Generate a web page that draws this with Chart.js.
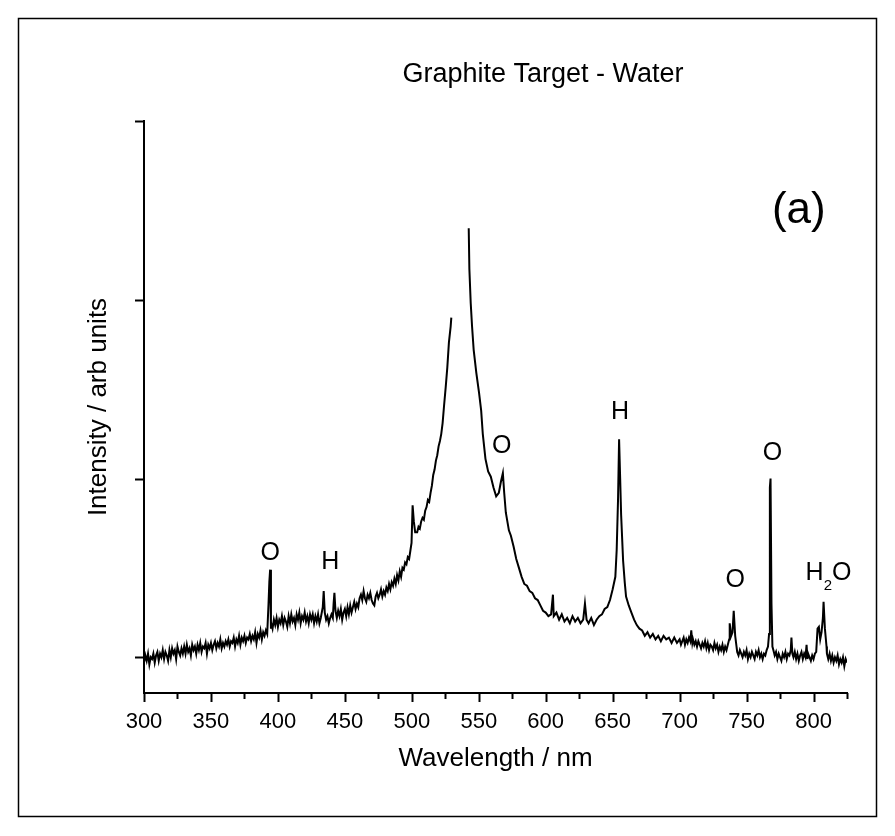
<!DOCTYPE html>
<html>
<head>
<meta charset="utf-8">
<script src="https://cdn.jsdelivr.net/npm/chart.js@4.4.1/dist/chart.umd.min.js"></script>
<style>
  body { margin: 0; background: #fff; }
  canvas { display: block; }
</style>
</head>
<body>
<canvas id="spectrumChart" width="895" height="836"></canvas>
<script>
// Wavelength (nm) and intensity (arb. units); null = gap in the record
const wavelengths = [
  300, 301, 302, 303, 304, 305, 306, 307, 308, 309,
  310, 311, 312, 313, 314, 315, 316, 317, 318, 319,
  320, 321, 322, 323, 324, 325, 326, 327, 328, 329,
  330, 331, 332, 333, 334, 335, 336, 337, 338, 339,
  340, 341, 342, 343, 344, 345, 346, 347, 348, 349,
  350, 351, 352, 353, 354, 355, 356, 357, 358, 359,
  360, 361, 362, 363, 364, 365, 366, 367, 368, 369,
  370, 371, 372, 373, 374, 375, 376, 377, 378, 379,
  380, 381, 382, 383, 384, 385, 386, 387, 388, 389,
  390, 391, 392, 393, 393.6, 394.2, 394.8, 395, 396, 397,
  398, 399, 400, 401, 402, 403, 404, 405, 406, 407,
  408, 409, 410, 411, 412, 413, 414, 415, 416, 417,
  418, 419, 420, 421, 422, 423, 424, 425, 426, 427,
  428, 429, 430, 431, 432, 433.5, 434.2, 435, 436, 437,
  438, 439, 440, 441, 441.6, 442.2, 443, 444, 445, 446,
  447, 448, 449, 450, 451, 452, 453, 454, 455, 456,
  457, 458, 459, 460, 461, 462, 463, 464, 465, 466,
  467, 468, 469, 470, 471, 472, 473, 474, 475, 476,
  477, 478, 479, 480, 481, 482, 483, 484, 485, 486,
  487, 488, 489, 490, 491, 492, 493, 494, 495, 496,
  497, 498, 499, 499.8, 500.6, 501.5, 502.5, 504, 505, 506,
  507, 508, 509, 510, 511, 512, 513, 514, 515, 516,
  517, 518, 519, 520, 521, 522, 523, 524, 525.3, 526.5,
  527.7, 529, 529.5, 535, 542.5, 543, 544, 545, 546.2, 548.2,
  550.2, 551.8, 553, 555, 557, 559, 561, 563, 565, 566.5,
  568, 569, 570.2, 572.5, 574, 576, 578, 580, 582, 584,
  586, 588, 590, 592, 594, 596, 598, 600, 602, 604,
  605.4, 606, 608, 610, 612, 614, 616, 618, 620, 622,
  624, 626, 628, 629.3, 630.5, 632, 634, 636, 638, 640,
  642, 644, 646, 648, 650, 652, 653, 654, 654.8, 655.6,
  656.3, 657.8, 659, 660, 662, 664, 666, 668, 670, 672,
  674, 676, 678, 680, 682, 684, 686, 688, 690, 692,
  694, 696, 698, 700, 701, 702, 703, 704, 705, 706,
  707, 708, 708.7, 709.5, 710, 711, 712, 713, 714, 715,
  716, 717, 718, 719, 720, 721, 722, 723, 724, 725,
  726, 727, 728, 729, 730, 731, 732, 733, 734, 735,
  736, 737, 737.4, 738.5, 739.5, 740.4, 741.5, 742.5, 743, 744,
  745, 746, 747, 748, 749, 750, 751, 752, 753, 754,
  755, 756, 757, 758, 759, 760, 761, 762, 763, 764,
  765, 766, 766.8, 767.4, 767.9, 768.6, 769.3, 770, 771, 772,
  773, 774, 775, 776, 777, 778, 779, 780, 781, 782,
  783, 783.5, 784.2, 785, 786, 787, 788, 789, 790, 791,
  792, 793, 794, 794.8, 795.5, 796, 797, 798, 799, 800,
  801, 802, 803, 804, 805, 806, 807, 807.5, 808.5, 809.7,
  810, 811, 812, 813, 814, 815, 816, 817, 818, 819,
  820, 821, 822, 823, 824, 825
];
const intensities = [
  -0.03, 0.01, -0.02, 0.02, -0.04, 0.00, -0.01, 0.02, -0.03, 0.01,
  0.03, -0.02, 0.02, 0.00, 0.04, -0.01, 0.03, 0.01, -0.02, 0.04,
  0.00, 0.05, 0.02, 0.04, -0.01, 0.06, 0.03, 0.01, 0.05, 0.02,
  0.06, 0.02, 0.07, 0.03, 0.05, 0.01, 0.07, 0.04, 0.06, 0.02,
  0.07, 0.04, 0.08, 0.03, 0.06, 0.05, 0.08, 0.02, 0.07, 0.05,
  0.08, 0.04, 0.07, 0.09, 0.05, 0.08, 0.06, 0.10, 0.05, 0.08,
  0.06, 0.09, 0.07, 0.10, 0.06, 0.09, 0.08, 0.11, 0.06, 0.10,
  0.08, 0.12, 0.07, 0.11, 0.09, 0.12, 0.08, 0.11, 0.10, 0.13,
  0.09, 0.12, 0.10, 0.14, 0.08, 0.13, 0.11, 0.15, 0.10, 0.14,
  0.12, 0.15, 0.13, 0.30, 0.42, 0.49, 0.16, 0.19, 0.16, 0.21,
  0.18, 0.22, 0.17, 0.21, 0.19, 0.23, 0.18, 0.22, 0.20, 0.17,
  0.23, 0.19, 0.24, 0.20, 0.22, 0.18, 0.24, 0.21, 0.25, 0.19,
  0.23, 0.21, 0.25, 0.20, 0.23, 0.19, 0.24, 0.21, 0.24, 0.19,
  0.23, 0.20, 0.24, 0.19, 0.22, 0.28, 0.37, 0.25, 0.21, 0.23,
  0.19, 0.22, 0.24, 0.22, 0.30, 0.36, 0.26, 0.22, 0.26, 0.23,
  0.27, 0.21, 0.25, 0.27, 0.23, 0.28, 0.24, 0.29, 0.25, 0.28,
  0.31, 0.27, 0.30, 0.28, 0.33, 0.35, 0.32, 0.37, 0.33, 0.31,
  0.35, 0.33, 0.36, 0.32, 0.30, 0.29, 0.34, 0.36, 0.33, 0.35,
  0.38, 0.34, 0.37, 0.35, 0.39, 0.37, 0.41, 0.38, 0.42, 0.40,
  0.44, 0.41, 0.46, 0.43, 0.48, 0.45, 0.50, 0.49, 0.53, 0.52,
  0.56, 0.55, 0.60, 0.64, 0.85, 0.76, 0.70, 0.70, 0.73, 0.72,
  0.76, 0.78, 0.77, 0.82, 0.84, 0.88, 0.87, 0.92, 0.96, 1.02,
  1.05, 1.10, 1.13, 1.18, 1.21, 1.25, 1.31, 1.40, 1.51, 1.62,
  1.76, 1.85, 1.90, null, 2.40, 2.17, 1.98, 1.85, 1.72, 1.59,
  1.48, 1.38, 1.25, 1.11, 1.04, 1.01, 0.95, 0.90, 0.92, 0.98,
  1.03, 0.92, 0.81, 0.71, 0.68, 0.62, 0.55, 0.50, 0.45, 0.41,
  0.40, 0.37, 0.36, 0.33, 0.32, 0.29, 0.26, 0.25, 0.23, 0.24,
  0.35, 0.23, 0.25, 0.21, 0.24, 0.20, 0.22, 0.19, 0.23, 0.20,
  0.22, 0.19, 0.21, 0.30, 0.21, 0.19, 0.22, 0.18, 0.21, 0.23,
  0.24, 0.27, 0.28, 0.32, 0.38, 0.45, 0.60, 0.88, 1.22, 1.00,
  0.80, 0.54, 0.42, 0.34, 0.29, 0.25, 0.21, 0.18, 0.16, 0.15,
  0.12, 0.14, 0.11, 0.13, 0.10, 0.12, 0.09, 0.12, 0.10, 0.11,
  0.08, 0.11, 0.08, 0.10, 0.07, 0.09, 0.11, 0.07, 0.10, 0.08,
  0.11, 0.09, 0.15, 0.08, 0.10, 0.07, 0.09, 0.06, 0.09, 0.07,
  0.05, 0.08, 0.06, 0.09, 0.05, 0.08, 0.04, 0.07, 0.06, 0.04,
  0.08, 0.05, 0.07, 0.03, 0.06, 0.04, 0.07, 0.03, 0.06, 0.04,
  0.07, 0.10, 0.19, 0.12, 0.14, 0.26, 0.12, 0.06, 0.03, 0.01,
  0.04, 0.02, 0.00, 0.03, 0.01, 0.04, -0.01, 0.02, 0.00, 0.03,
  0.01, -0.01, 0.03, 0.01, 0.04, 0.00, 0.02, -0.01, 0.02, 0.01,
  0.04, 0.06, 0.13, 0.95, 1.00, 0.30, 0.06, 0.04, 0.01, 0.03,
  -0.01, 0.02, 0.00, -0.02, 0.02, 0.00, 0.03, -0.01, 0.02, 0.01,
  0.04, 0.11, 0.02, 0.00, 0.03, -0.01, 0.02, -0.02, 0.01, 0.03,
  -0.01, 0.02, 0.00, 0.07, -0.01, 0.02, 0.00, -0.02, 0.01, -0.01,
  0.02, 0.03, 0.16, 0.17, 0.10, 0.14, 0.22, 0.31, 0.16, 0.06,
  0.02, -0.01, 0.02, -0.02, 0.01, -0.03, 0.00, -0.02, 0.01, -0.04,
  -0.01, -0.03, 0.00, -0.05, -0.01, -0.03
];
const xTickValues = [300, 350, 400, 450, 500, 550, 600, 650, 700, 750, 800];
const yTickValues = [0, 1, 2, 3];

// Line identifications (label text, wavelength, intensity where the label sits)
const peakLabels = [
  { text: 'O', x: 394.3, y: 0.58 },
  { text: 'H', x: 439.2, y: 0.53 },
  { text: 'O', x: 567.2, y: 1.18 },
  { text: 'H', x: 655.5, y: 1.37 },
  { text: 'O', x: 741.6, y: 0.43 },
  { text: 'O', x: 769.3, y: 1.14 },
  { text: 'H2O', x: 811.2, y: 0.48 }
];

const FONT = "'Liberation Sans', Arial, Helvetica, sans-serif";

const extrasPlugin = {
  id: 'extras',
  beforeDraw(chart) {
    const ctx = chart.ctx;
    ctx.save();
    ctx.fillStyle = '#fff';
    ctx.fillRect(0, 0, chart.width, chart.height);
    ctx.strokeStyle = '#000';
    ctx.lineWidth = 1.5;
    ctx.strokeRect(18.5, 18.5, 858, 798);
    ctx.restore();
  },
  afterDraw(chart) {
    const ctx = chart.ctx;
    const xs = chart.scales.x;
    const ys = chart.scales.y;
    const area = chart.chartArea;
    ctx.save();
    ctx.strokeStyle = '#000';
    ctx.lineWidth = 2;

    // x ticks: major every 50, minor every 25
    for (let v = xs.min; v <= xs.max; v += 25) {
      const px = Math.round(xs.getPixelForValue(v)) + 0.5;
      const len = xTickValues.includes(v) ? 9 : 6;
      ctx.beginPath();
      ctx.moveTo(px, area.bottom);
      ctx.lineTo(px, area.bottom + len);
      ctx.stroke();
    }
    // y ticks
    yTickValues.forEach(v => {
      const py = Math.round(ys.getPixelForValue(v)) + 0.5;
      ctx.beginPath();
      ctx.moveTo(area.left, py);
      ctx.lineTo(area.left - 9, py);
      ctx.stroke();
    });

    ctx.fillStyle = '#000';
    ctx.textAlign = 'center';
    ctx.textBaseline = 'middle';

    // title
    ctx.font = '27px ' + FONT;
    ctx.fillText('Graphite Target - Water', 543, 75);

    // panel letter
    ctx.font = '44px ' + FONT;
    ctx.fillText('(a)', xs.getPixelForValue(789), ys.getPixelForValue(2.50));

    // peak labels
    peakLabels.forEach(l => {
      const px = xs.getPixelForValue(l.x);
      const py = ys.getPixelForValue(l.y);
      ctx.font = '25px ' + FONT;
      if (l.text === 'H2O') {
        const wH = ctx.measureText('H').width;
        const wO = ctx.measureText('O').width;
        ctx.font = '15px ' + FONT;
        const w2 = ctx.measureText('2').width;
        const x0 = px - (wH + w2 + wO) / 2;
        ctx.textAlign = 'left';
        ctx.textBaseline = 'alphabetic';
        const base = py + 9;
        ctx.font = '25px ' + FONT;
        ctx.fillText('H', x0, base);
        ctx.font = '15px ' + FONT;
        ctx.fillText('2', x0 + wH, base + 10);
        ctx.font = '25px ' + FONT;
        ctx.fillText('O', x0 + wH + w2, base);
        ctx.textAlign = 'center';
        ctx.textBaseline = 'middle';
      } else {
        ctx.fillText(l.text, px, py);
      }
    });
    ctx.restore();
  }
};

const points = wavelengths.map((w, i) => ({ x: w, y: intensities[i] }));

const ctx = document.getElementById('spectrumChart').getContext('2d');
const spectrumChart = new Chart(ctx, {
  type: 'line',
  data: {
    datasets: [{
      label: 'Intensity',
      data: points,
      borderColor: '#000',
      borderWidth: 2,
      pointRadius: 0,
      tension: 0,
      spanGaps: false
    }]
  },
  options: {
    responsive: false,
    animation: false,
    layout: {
      padding: { left: 0, top: 121, right: 48, bottom: 0 }
    },
    plugins: {
      legend: { display: false },
      tooltip: { enabled: false }
    },
    scales: {
      x: {
        type: 'linear',
        position: 'bottom',
        min: 300,
        max: 825,
        afterFit: s => { s.height = 143; },
        grid: { display: false, drawTicks: false },
        border: { display: true, color: '#000', width: 2 },
        ticks: {
          stepSize: 25,
          autoSkip: false,
          maxRotation: 0,
          padding: 16,
          color: '#000',
          font: { family: FONT, size: 22 },
          callback: v => (xTickValues.includes(v) ? String(v) : '')
        },
        title: {
          display: true,
          text: 'Wavelength / nm',
          color: '#000',
          font: { family: FONT, size: 26 },
          padding: { top: 0, bottom: 62 }
        }
      },
      y: {
        type: 'linear',
        position: 'left',
        min: -0.2,
        max: 3,
        afterFit: s => { s.width = 144; },
        afterBuildTicks: s => { s.ticks = yTickValues.map(v => ({ value: v })); },
        grid: { display: false, drawTicks: false },
        border: { display: true, color: '#000', width: 2 },
        ticks: { display: false },
        title: {
          display: true,
          text: 'Intensity / arb units',
          color: '#000',
          font: { family: FONT, size: 26 },
          padding: { top: 83, bottom: 0 }
        }
      }
    }
  },
  plugins: [extrasPlugin]
});
</script>
</body>
</html>
